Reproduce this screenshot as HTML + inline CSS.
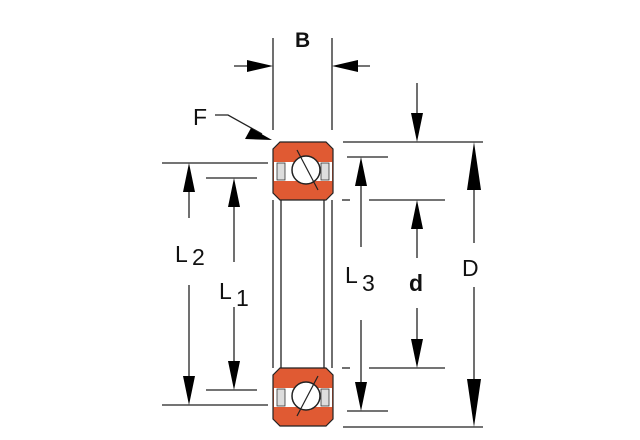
<!DOCTYPE html>
<html><head><style>body{margin:0;background:#fff}svg{display:block}</style></head><body>
<svg width="640" height="440" viewBox="0 0 640 440" xmlns="http://www.w3.org/2000/svg" font-family="Liberation Sans, sans-serif">
<defs>
<g id="ring">
<polygon points="280,142 326,142 333,149 333,193 326,200 280,200 273,193 273,149" fill="#e05a33" stroke="#222" stroke-width="1.2"/>
<rect x="274" y="162" width="58" height="19" fill="#fff"/>
<rect x="277" y="163" width="8" height="17" fill="#ddd" stroke="#333" stroke-width="0.8"/>
<rect x="321" y="163" width="8" height="17" fill="#ddd" stroke="#333" stroke-width="0.8"/>
<circle cx="306" cy="170" r="14" fill="#fff" stroke="#222" stroke-width="1.5"/>
</g>
</defs>
<g stroke="#222" stroke-width="1.3" fill="none">
<line x1="273" y1="200" x2="273" y2="368"/><line x1="281" y1="200" x2="281" y2="368"/>
<line x1="324" y1="200" x2="324" y2="368"/><line x1="332" y1="200" x2="332" y2="368"/>
</g>
<use href="#ring"/>
<line x1="297" y1="150" x2="318" y2="190" stroke="#222" stroke-width="1.2"/>
<g transform="translate(0,226)"><use href="#ring"/></g>
<line x1="318" y1="376" x2="297" y2="416" stroke="#222" stroke-width="1.2"/>
<g stroke="#222" stroke-width="1.3">
<line x1="273" y1="38" x2="273" y2="130"/><line x1="332" y1="38" x2="332" y2="130"/>
<line x1="234" y1="66" x2="260" y2="66"/><line x1="345" y1="66" x2="370" y2="66"/>
<polyline points="215,115 228,115 262,134" fill="none"/>
<line x1="343" y1="142" x2="483" y2="142"/><line x1="347" y1="157" x2="388" y2="157"/>
<line x1="369" y1="200" x2="445" y2="200"/><line x1="342" y1="200" x2="350" y2="200"/>
<line x1="369" y1="368" x2="445" y2="368"/><line x1="342" y1="368" x2="350" y2="368"/>
<line x1="347" y1="411" x2="388" y2="411"/><line x1="343" y1="427" x2="483" y2="427"/>
<line x1="417" y1="83" x2="417" y2="128"/>
<line x1="361" y1="170" x2="361" y2="247"/><line x1="361" y1="320" x2="361" y2="398"/>
<line x1="417" y1="213" x2="417" y2="258"/><line x1="417" y1="308" x2="417" y2="355"/>
<line x1="474" y1="155" x2="474" y2="243"/><line x1="474" y1="287" x2="474" y2="414"/>
<line x1="162" y1="163" x2="268" y2="163"/><line x1="206" y1="178" x2="257" y2="178"/>
<line x1="162" y1="405" x2="268" y2="405"/><line x1="206" y1="390" x2="257" y2="390"/>
<line x1="189" y1="176" x2="189" y2="218"/><line x1="189" y1="285" x2="189" y2="392"/>
<line x1="234" y1="191" x2="234" y2="262"/><line x1="234" y1="307" x2="234" y2="377"/>
</g>
<g fill="#000">
<polygon points="273,66 247,60 247,72"/><polygon points="332,66 358,60 358,72"/>
<polygon points="272,140 251,128 245,139"/>
<polygon points="417,142 411,113 423,113"/>
<polygon points="361,157 355,186 367,186"/><polygon points="361,411 355,382 367,382"/>
<polygon points="417,200 411,229 423,229"/><polygon points="417,368 411,339 423,339"/>
<polygon points="474,142 467,190 481,190"/><polygon points="474,427 467,379 481,379"/>
<polygon points="189,163 183,192 195,192"/><polygon points="189,405 183,376 195,376"/>
<polygon points="234,178 228,207 240,207"/><polygon points="234,390 228,361 240,361"/>
</g>
<g fill="#111" font-size="23">
<text x="295" y="47" font-weight="bold" font-size="21">B</text>
<text x="193" y="125">F</text>
<text x="175" y="262">L</text><text x="192" y="265">2</text>
<text x="219" y="299">L</text><text x="236" y="306">1</text>
<text x="345" y="283">L</text><text x="362" y="291">3</text>
<text x="409" y="291" font-weight="bold">d</text>
<text x="462" y="276">D</text>
</g>
</svg>
</body></html>
